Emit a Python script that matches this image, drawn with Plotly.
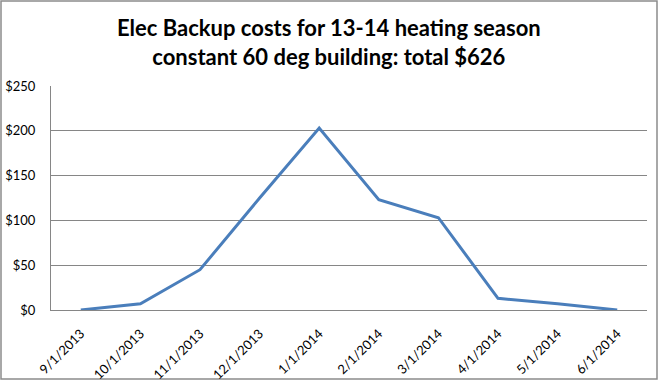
import plotly.graph_objects as go

months = ["9/1/2013", "10/1/2013", "11/1/2013", "12/1/2013", "1/1/2014",
          "2/1/2014", "3/1/2014", "4/1/2014", "5/1/2014", "6/1/2014"]
costs = [0, 7, 45, 125, 203, 123, 103, 13, 7, 0]
y_ticks = [0, 50, 100, 150, 200, 250]
y_labels = ["$0", "$50", "$100", "$150", "$200", "$250"]
title_text = "<b>Elec Backup costs for 13-14 heating season<br>constant 60 deg building: total $626</b>"

W, H = 659, 381
ml, mr, mt, mb = 51, 12, 86, 71
pw, ph = W - ml - mr, H - mt - mb

fig = go.Figure()
fig.add_trace(go.Scatter(
    x=months, y=costs, mode="lines",
    line=dict(color="#4A7EBB", width=3),
    showlegend=False, hoverinfo="x+y",
))

gray = "#868686"
fig.update_layout(
    width=W, height=H,
    margin=dict(l=ml, r=mr, t=mt, b=mb, autoexpand=False),
    paper_bgcolor="white", plot_bgcolor="white",
    font=dict(family="Lato, Open Sans, sans-serif", size=13, color="black"),
    xaxis=dict(
        type="category", tickangle=-45, showgrid=False,
        showline=True, linecolor=gray, linewidth=1,
        ticks="", range=[-0.5, 9.5], ticklabelstandoff=10,
        tickfont=dict(size=13),
    ),
    yaxis=dict(
        range=[0, 250], tickvals=y_ticks, ticktext=y_labels,
        showgrid=True, gridcolor=gray, gridwidth=1,
        showline=True, linecolor=gray, linewidth=1,
        ticks="", zeroline=False, tickfont=dict(size=13),
        ticklabelstandoff=12,
    ),
    annotations=[dict(
        text=title_text, xref="paper", yref="paper",
        x=(329 - ml) / pw, y=(H - mb - 42) / ph,
        xanchor="center", yanchor="middle", showarrow=False,
        font=dict(family="Lato, Open Sans, sans-serif", size=22, color="black"),
    )],
    shapes=[dict(
        type="rect", xref="paper", yref="paper",
        x0=(1 - ml) / pw, x1=(657 - ml) / pw,
        y0=(H - mb - 379) / ph, y1=(H - mb - 1) / ph,
        line=dict(color="#8c8c8c", width=1.5), fillcolor="rgba(0,0,0,0)",
        layer="below",
    )],
)

fig.write_html("out.html", config={"displayModeBar": False},
               post_script="document.body.style.margin='0px';")
